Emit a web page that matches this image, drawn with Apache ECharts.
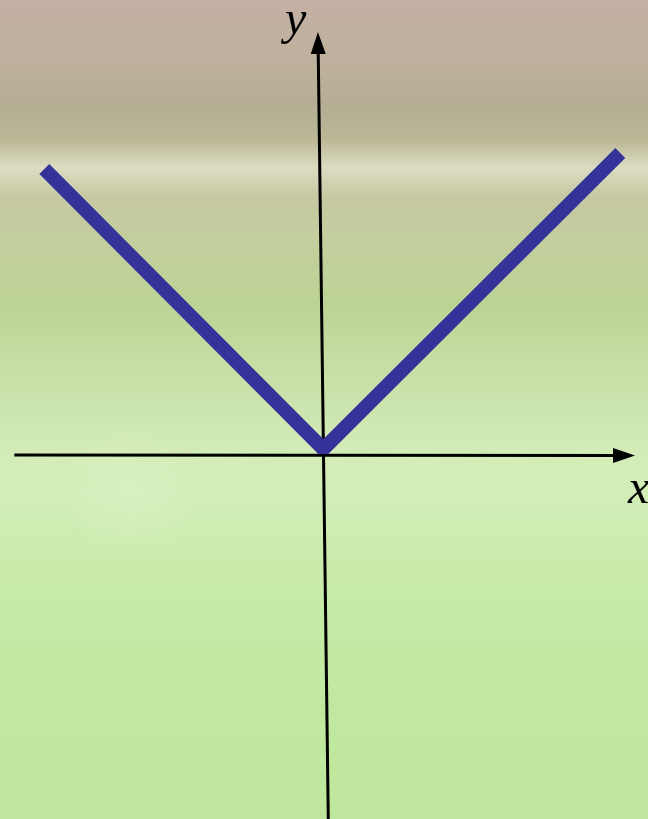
<!DOCTYPE html>
<html>
<head>
<meta charset="utf-8">
<title>y = |x|</title>
<script src="https://cdn.jsdelivr.net/npm/echarts@6/dist/echarts.min.js"></script>
<style>
  html, body { margin: 0; padding: 0; }
  #chart { width: 648px; height: 819px; }
</style>
</head>
<body>
<div id="chart"></div>
<script>
// V-shaped graph (1 unit = 100px), origin at the vertex
var vX = [-2.79, 0, 2.97];
var vY = [2.80, 0, 2.96];

// hand-drawn axes (the y axis is slightly tilted in the original)
var xAxisFrom = [-3.09, -0.06];
var xAxisTo = [3.007, -0.065];
var yAxisFrom = [0.05, -3.70];
var yAxisTo = [-0.052, 4.06];

// background bands, top to bottom
var bgStops = [
  [0.00, "#c4b0a4"],
  [0.07, "#c0b19e"],
  [0.13, "#b4ae93"],
  [0.17, "#bbb796"],
  [0.205, "#dcdcc2"],
  [0.24, "#c6c8a2"],
  [0.30, "#c3cf9d"],
  [0.37, "#bdd395"],
  [0.47, "#c9e1a9"],
  [0.56, "#d4ecb7"],
  [0.60, "#d2eeb8"],
  [0.70, "#c8ebaa"],
  [0.85, "#c1e8a0"],
  [1.00, "#bee69c"]
];

var chart = echarts.init(document.getElementById("chart"));

var option = {
  backgroundColor: {
    type: "linear", x: 0, y: 0, x2: 0, y2: 1,
    colorStops: bgStops.map(function (s) { return { offset: s[0], color: s[1] }; })
  },
  animation: false,
  grid: { left: 0, right: 0, top: 0, bottom: 0 },
  xAxis: { type: "value", min: -3.233, max: 3.247, show: false },
  yAxis: { type: "value", min: -3.70, max: 4.49, show: false },
  graphic: [
    {
      type: "rect", z: -10, silent: true,
      shape: { x: 0, y: 420, width: 648, height: 160 },
      style: {
        fill: {
          type: "radial", x: 0.2, y: 0.45, r: 0.45,
          colorStops: [
            { offset: 0, color: "rgba(225,245,205,0.35)" },
            { offset: 1, color: "rgba(225,245,205,0)" }
          ]
        }
      }
    },
    {
      type: "text", x: 285, y: -3, z: 10,
      style: { text: "y", font: "italic 48px 'Liberation Serif', 'DejaVu Serif', serif", fill: "#000" }
    },
    {
      type: "text", x: 628, y: 466, z: 10,
      style: { text: "x", font: "italic 48px 'Liberation Serif', 'DejaVu Serif', serif", fill: "#000" }
    }
  ],
  series: [
    {
      type: "line",
      data: vX.map(function (x, i) { return [x, vY[i]]; }),
      symbol: "none",
      z: 3,
      lineStyle: { color: "#35339a", width: 14, cap: "butt", join: "bevel" },
      markLine: {
        silent: true,
        z: 2,
        symbol: ["none", "triangle"],
        symbolSize: [15, 22],
        label: { show: false },
        lineStyle: { color: "#000", width: 3, type: "solid" },
        data: [
          [{ coord: xAxisFrom }, { coord: xAxisTo }],
          [{ coord: yAxisFrom }, { coord: yAxisTo }]
        ]
      }
    }
  ]
};

chart.setOption(option);
</script>
</body>
</html>
